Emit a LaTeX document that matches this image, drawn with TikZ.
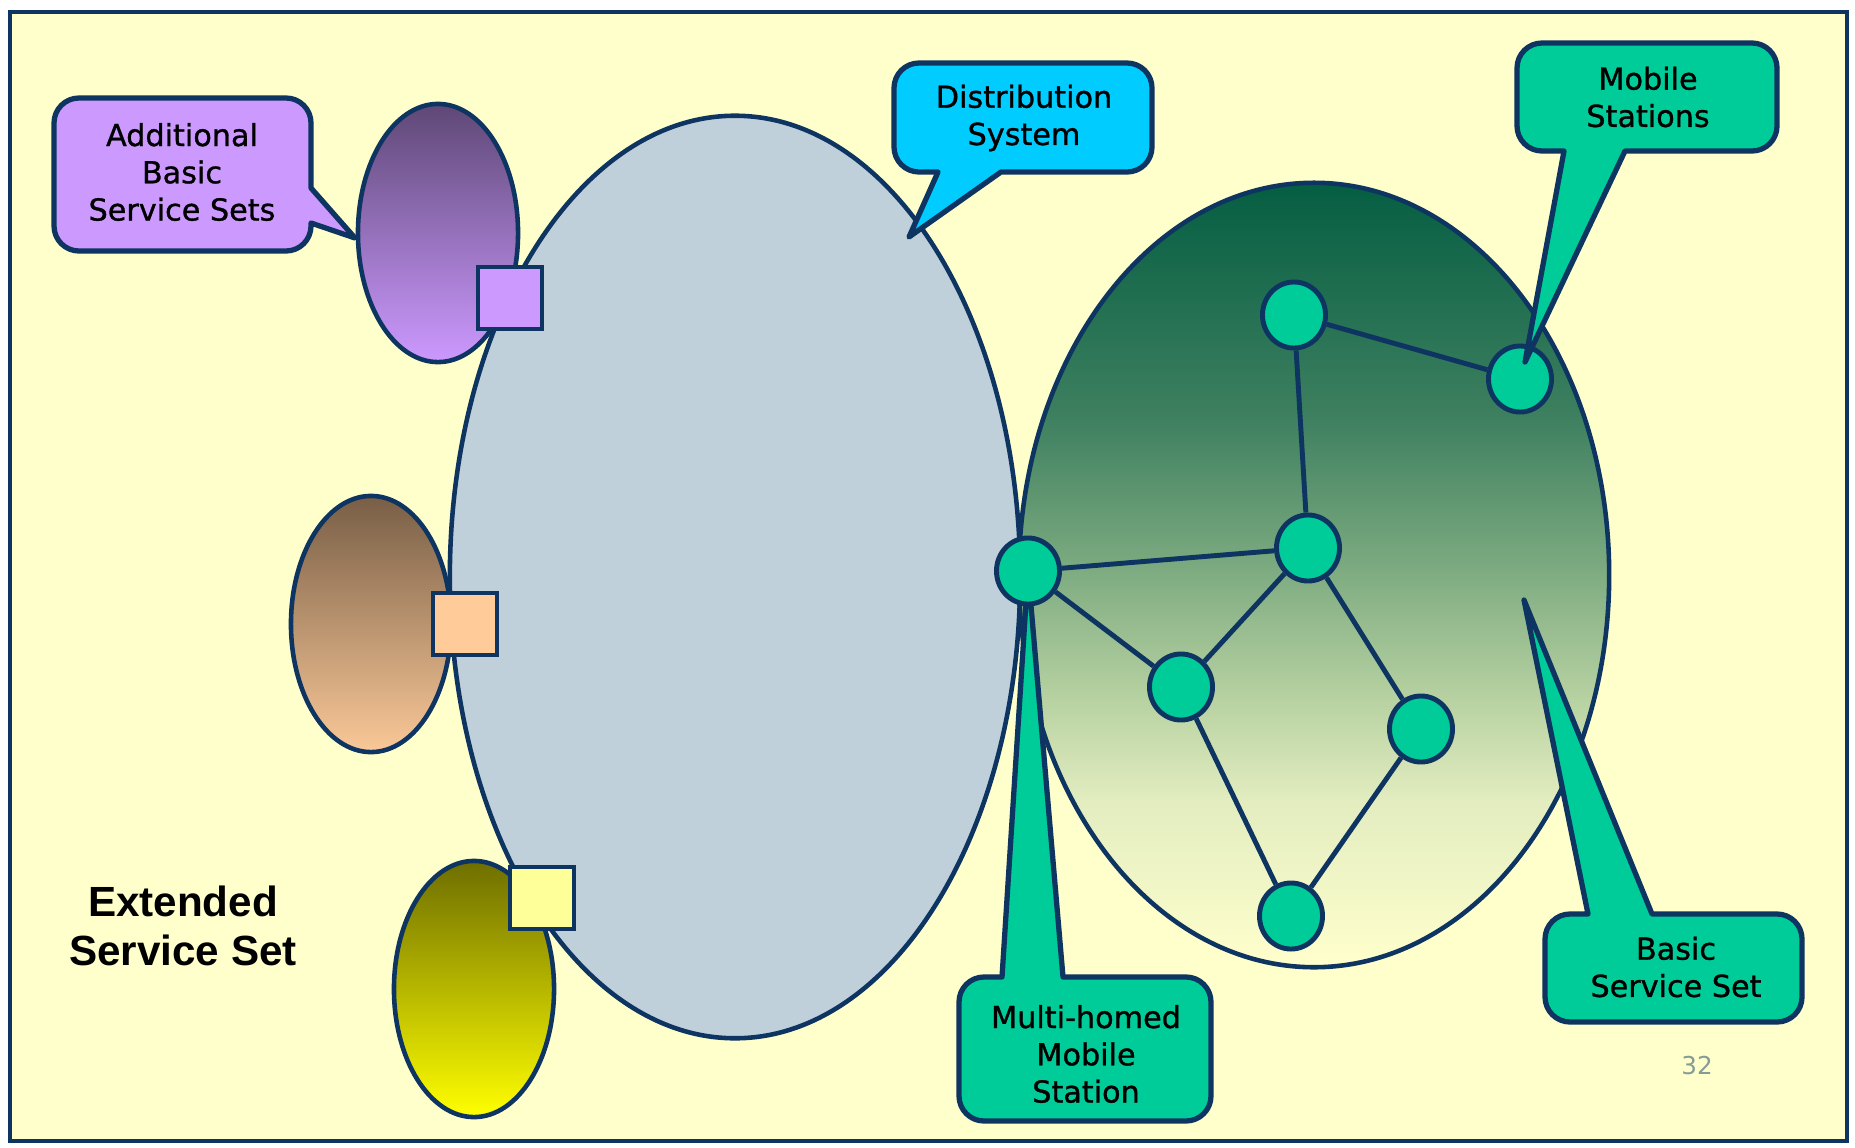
\documentclass[tikz,border=0pt]{standalone}
\usepackage{fontspec}
\newfontfamily\calloutfont[FakeBold=1]{DejaVu Sans}
\newfontfamily\pagefont{DejaVu Sans}
\newfontfamily\essfont{Liberation Sans}
\usetikzlibrary{shapes.geometric}

% palette
\definecolor{navy}{RGB}{14,52,98}
\definecolor{paper}{RGB}{255,255,204}
\definecolor{dsgray}{RGB}{192,208,219}
\definecolor{lilac}{RGB}{204,153,255}
\definecolor{peach}{RGB}{255,204,153}
\definecolor{lemon}{RGB}{255,255,153}
\definecolor{mint}{RGB}{0,204,153}
\definecolor{dscyan}{RGB}{0,204,255}
\definecolor{purpleTop}{RGB}{94,72,118}
\definecolor{brownTop}{RGB}{120,94,70}
\definecolor{brownBot}{RGB}{250,200,152}
\definecolor{oliveTop}{RGB}{110,110,0}
\definecolor{yellowBot}{RGB}{255,255,0}
\definecolor{bssA}{RGB}{5,94,66}
\definecolor{bssM}{RGB}{62,128,96}
\definecolor{bssB}{RGB}{121,168,126}
\definecolor{bssC}{RGB}{184,210,162}
\definecolor{bssD}{RGB}{227,237,192}
\definecolor{bssE}{RGB}{255,255,204}
\definecolor{pagegray}{RGB}{135,155,150}

% dark green at the top fading to pale yellow at the bottom
\pgfdeclareverticalshading{bssshade}{100bp}{%
  color(0bp)=(bssE); color(25bp)=(bssE); color(35.5bp)=(bssD);
  color(42bp)=(bssC); color(51bp)=(bssB); color(60bp)=(bssM);
  color(75bp)=(bssA); color(100bp)=(bssA)}

\pgfdeclarelayer{shapes}
\pgfdeclarelayer{tails}
\pgfdeclarelayer{front}
\pgfsetlayers{shapes,tails,main,front}

\begin{document}
\begin{tikzpicture}[x=0.01cm, y=0.01cm,
  outline/.style={draw=navy, line width=1.3pt},
  blob/.style={ellipse, outline, inner sep=0pt},
  port/.style={rectangle, outline, inner sep=0pt, minimum width=0.64cm, minimum height=0.62cm},
  station/.style={ellipse, draw=navy, line width=1.4pt, fill=mint, inner sep=0pt,
                  minimum width=0.63cm, minimum height=0.66cm},
  link/.style={draw=navy, line width=1.4pt},
  callout/.style={draw=navy, line width=1.5pt, line join=round},
  calltext/.style={font=\calloutfont\fontsize{8.6}{10.6}\selectfont, align=center, text=black, inner sep=0pt},
  esstext/.style={font=\essfont\bfseries\fontsize{12}{14}\selectfont, align=center, text=black, inner sep=0pt},
]
\useasboundingbox (0,0) rectangle (1855,1147);

% ---- frame and the service-set areas
\begin{pgfonlayer}{shapes}
  \fill[white] (0,0) rectangle (1855,1147);
  \draw[fill=paper, draw=navy, line width=1.4pt] (10,6) rectangle (1847,1135);
  \node[blob, fill=dsgray, minimum width=5.7cm, minimum height=9.22cm] (ds) at (735,570) {};
  \node[blob, shade, shading=bssshade, minimum width=5.9cm, minimum height=7.84cm] (bssarea) at (1314,572) {};
  \node[blob, top color=purpleTop, bottom color=lilac, minimum width=1.6cm, minimum height=2.58cm] (bssP) at (438,914) {};
  \node[blob, top color=brownTop, bottom color=brownBot, minimum width=1.6cm, minimum height=2.56cm] (bssO) at (371,523) {};
  \node[blob, top color=oliveTop, bottom color=yellowBot, minimum width=1.6cm, minimum height=2.56cm] (bssY) at (474,158) {};
  \node[port, fill=lilac] (sqP) at (510,849) {};
  \node[port, fill=peach] (sqO) at (465,523) {};
  \node[port, fill=lemon] (sqY) at (542,249) {};
\end{pgfonlayer}

% ---- mobile stations and their links
\node[station] (A) at (1294,832) {};
\node[station] (B) at (1520,768) {};
\node[station] (C) at (1308,599) {};
\node[station] (D) at (1028,576) {};
\node[station] (E) at (1181,460) {};
\node[station] (F) at (1421,418) {};
\node[station] (G) at (1291,231) {};

\draw[link] (A) -- (B);
\draw[link] (A) -- (C);
\draw[link] (C) -- (D);
\draw[link] (D) -- (E);
\draw[link] (E) -- (C);
\draw[link] (C) -- (F);
\draw[link] (E) -- (G);
\draw[link] (F) -- (G);

% ---- callout tips
\coordinate (addlTip) at (355,909);
\coordinate (distTip) at (909,910);
\coordinate (mobsTip) at (1525,785);
\coordinate (bssTip) at (1524,547);

% ---- multi-homed callout sits under its station
\begin{pgfonlayer}{tails}
  \draw[callout, fill=mint] (984,26) -- (1186,26) arc[start angle=-90,end angle=0,radius=25]
    -- (1211,145) arc[start angle=0,end angle=90,radius=25]
    -- (1063,170) -- (D.center) -- (1002,170)
    -- (984,170) arc[start angle=90,end angle=180,radius=25]
    -- (959,51) arc[start angle=180,end angle=270,radius=25] -- cycle;
\end{pgfonlayer}
\node[calltext] (mhms) at (1086,93) {Multi-homed\\Mobile\\Station};

% ---- remaining callouts
\begin{pgfonlayer}{front}
  \draw[callout, fill=lilac] (79,896) -- (286,896) arc[start angle=-90,end angle=0,radius=25]
    -- (311,924) -- (addlTip) -- (311,959)
    -- (311,1024) arc[start angle=0,end angle=90,radius=25]
    -- (79,1049) arc[start angle=90,end angle=180,radius=25]
    -- (54,921) arc[start angle=180,end angle=270,radius=25] -- cycle;
  \node[calltext] (addl) at (182,975) {Additional\\Basic\\Service Sets};

  \draw[callout, fill=dscyan] (919,975) -- (938,975) -- (distTip) -- (1001,975)
    -- (1127,975) arc[start angle=-90,end angle=0,radius=25]
    -- (1152,1059) arc[start angle=0,end angle=90,radius=25]
    -- (919,1084) arc[start angle=90,end angle=180,radius=25]
    -- (894,1000) arc[start angle=180,end angle=270,radius=25] -- cycle;
  \node[calltext] (dist) at (1024,1029) {Distribution\\System};

  \draw[callout, fill=mint] (1542,996) -- (1564,996) -- (mobsTip) -- (1625,996)
    -- (1752,996) arc[start angle=-90,end angle=0,radius=25]
    -- (1777,1079) arc[start angle=0,end angle=90,radius=25]
    -- (1542,1104) arc[start angle=90,end angle=180,radius=25]
    -- (1517,1021) arc[start angle=180,end angle=270,radius=25] -- cycle;
  \node[calltext] (mobs) at (1648,1050) {Mobile\\Stations};

  \draw[callout, fill=mint] (1570,125) -- (1777,125) arc[start angle=-90,end angle=0,radius=25]
    -- (1802,208) arc[start angle=0,end angle=90,radius=25]
    -- (1652,233) -- (bssTip) -- (1588,233)
    -- (1570,233) arc[start angle=90,end angle=180,radius=25]
    -- (1545,150) arc[start angle=180,end angle=270,radius=25] -- cycle;
  \node[calltext] (bss) at (1676,180) {Basic\\Service Set};
\end{pgfonlayer}

% ---- free labels
\node[esstext] (ess) at (183,221) {Extended\\Service Set};
\node[font=\pagefont\fontsize{7}{8}\selectfont, text=pagegray] (pgnum) at (1697,81) {32};
\end{tikzpicture}
\end{document}
